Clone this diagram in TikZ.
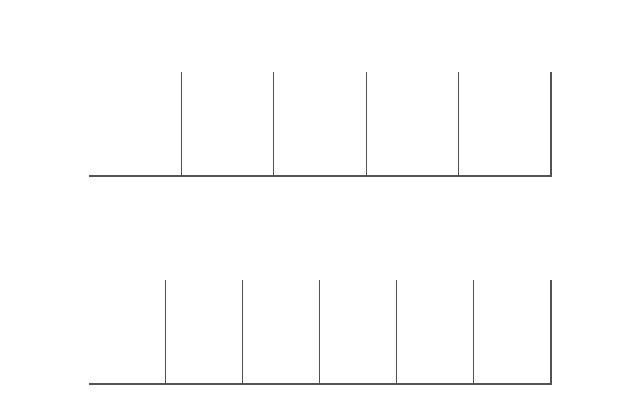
\documentclass[tikz,border=0pt]{standalone}
\begin{document}
\begin{tikzpicture}[x=1pt,y=-1pt,
  axisline/.style={draw=black!68, line width=2pt},
  tickline/.style={draw=black!68, line width=1pt}]
\useasboundingbox (0,0) rectangle (634,416);
% top ruler
\foreach \x in {181.5,273.5,366,458.5}{\draw[tickline] (\x,72) -- (\x,175);}
\draw[axisline] (550.5,72) -- (550.5,175.5) -- (89,175.5);
% bottom ruler
\foreach \x in {165.5,242.5,319.5,396.5,473.5}{\draw[tickline] (\x,280) -- (\x,383);}
\draw[axisline] (550.5,280) -- (550.5,383.5) -- (89,383.5);
\end{tikzpicture}
\end{document}
